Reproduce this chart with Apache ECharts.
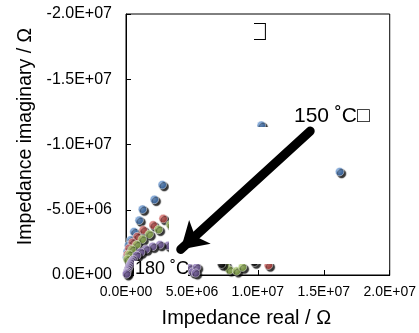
<!DOCTYPE html>
<html>
<head>
<meta charset="utf-8">
<script src="https://cdn.jsdelivr.net/npm/echarts@6/dist/echarts.min.js"></script>
<style>
  body { margin: 0; background: #fff; }
  #box { width: 419px; height: 333px; }
</style>
</head>
<body>
<div id="box"></div>
<script>
// 数据: [Z' , Z''] (Ω)
const xTicks = [0, 5e6, 1e7, 1.5e7, 2e7];
const yTicks = [-2e7, -1.5e7, -1e7, -5e6, 0];

const blue150 = [
  [2.75e6, -6.92e6], [2.15e6, -5.79e6], [1.25e6, -5.04e6], [1.0e6, -4.19e6],
  [0.6e6, -3.32e6], [0.35e6, -2.69e6], [0.19e6, -2.26e6], [0.1e6, -1.81e6],
  [0.05e6, -1.36e6], [10.26e6, -11.47e6], [16.2e6, -7.92e6]
];
const red160 = [
  [2.82e6, -4.32e6], [2.06e6, -3.83e6], [1.31e6, -3.45e6], [0.85e6, -2.94e6],
  [0.49e6, -2.49e6], [0.23e6, -2.04e6], [0.11e6, -1.58e6], [10.8e6, -0.75e6]
];
const green170 = [
  [2.47e6, -3.49e6], [1.76e6, -3.12e6], [1.23e6, -2.74e6], [0.81e6, -2.32e6],
  [0.45e6, -1.96e6], [0.23e6, -1.58e6], [0.1e6, -1.21e6], [3.35e6, -3.85e6],
  [7.55e6, -0.75e6], [7.85e6, -0.38e6], [8.38e6, -0.3e6], [8.83e6, -0.6e6]
];
const purple180 = [
  [3.19e6, -2.26e6], [2.57e6, -2.32e6], [2.02e6, -2.19e6], [1.51e6, -1.98e6],
  [1.11e6, -1.74e6], [0.81e6, -1.49e6], [0.55e6, -1.18e6], [0.46e6, -1.05e6],
  [0.38e6, -0.91e6], [0.3e6, -0.75e6], [0.23e6, -0.6e6], [0.17e6, -0.45e6],
  [0.11e6, -0.3e6], [0.07e6, -0.18e6], [0.04e6, -0.08e6],
  [4.83e6, -0.53e6], [5.06e6, -0.23e6], [5.36e6, -0.6e6], [5.28e6, -0.15e6]
];
const blackPts = [[7.25e6, -0.83e6], [9.74e6, -0.98e6]];
// 箭头 (150 ˚C 标签 -> 曲线)
const arrowFrom = [1.397e7, -1.103e7];
const arrowTo = [4.15e6, -1.96e6];

const FONT = '"Liberation Sans", Arial, "DejaVu Sans", sans-serif';

// 0.0E+00 格式
function sci(v) {
  const s = Number(v).toExponential(1).toUpperCase();
  return s.replace(/E([+-])(\d+)$/, (m, sg, d) => 'E' + sg + (d.length < 2 ? '0' + d : d));
}

function ball(base, light) {
  return {
    type: 'radial', x: 0.35, y: 0.35, r: 0.7,
    colorStops: [{ offset: 0, color: light }, { offset: 1, color: base }]
  };
}

function dots(name, data, base, light) {
  return {
    name: name,
    type: 'scatter',
    data: data,
    symbolSize: 8.5,
    z: 2,
    itemStyle: {
      color: ball(base, light),
      borderColor: '#fff',
      borderWidth: 0.6,
      shadowColor: '#000',
      shadowBlur: 1,
      shadowOffsetX: 2,
      shadowOffsetY: 2
    }
  };
}

const myChart = echarts.init(document.getElementById('box'));

const option = {
  animation: false,
  grid: {
    left: 126, right: 28, top: 14, bottom: 54,
    show: true, borderColor: '#000', borderWidth: 1, backgroundColor: 'transparent'
  },
  xAxis: {
    type: 'value',
    min: xTicks[0], max: xTicks[xTicks.length - 1], interval: xTicks[1] - xTicks[0],
    name: 'Impedance real / Ω',
    nameLocation: 'middle',
    nameGap: 33,
    nameTextStyle: { fontFamily: FONT, fontSize: 20, color: '#000', padding: [0, 23, 0, 0] },
    axisLine: { onZero: false, lineStyle: { color: '#000', width: 1 } },
    axisTick: { inside: true, length: 5, lineStyle: { color: '#000' } },
    axisLabel: { formatter: sci, fontFamily: FONT, fontSize: 14, color: '#000', margin: 10 },
    splitLine: { show: false }
  },
  yAxis: {
    type: 'value',
    inverse: true,
    min: yTicks[0], max: yTicks[yTicks.length - 1], interval: yTicks[1] - yTicks[0],
    name: 'Impedance imaginary / Ω',
    nameLocation: 'middle',
    nameGap: 88,
    nameTextStyle: { fontFamily: FONT, fontSize: 19.5, color: '#000', padding: [0, 0, 0, 16] },
    axisLine: { onZero: false, lineStyle: { color: '#000', width: 1 } },
    axisTick: { inside: true, length: 5, lineStyle: { color: '#000' } },
    axisLabel: { formatter: sci, fontFamily: FONT, fontSize: 16, color: '#000', margin: 14, padding: [6, 0, 0, 0] },
    splitLine: { show: false }
  },
  series: [
    dots('150 ˚C', blue150, '#2f64a8', '#7fa9dd'),
    dots('160 ˚C', red160, '#a83532', '#e27a77'),
    dots('170 ˚C', green170, '#78993a', '#bfdc86'),
    dots('180 ˚C', purple180, '#5e4885', '#a38ccb'),
    dots('black', blackPts, '#000', '#333'),
    {
      type: 'scatter',
      data: [],
      z: 10,
      silent: true,
      markLine: {
        silent: true,
        symbol: ['none', 'arrow'],
        symbolSize: [24, 26],
        label: { show: false },
        lineStyle: { color: '#000', width: 9, type: 'solid', cap: 'round' },
        data: [[{ coord: arrowFrom }, { coord: arrowTo }]]
      }
    }
  ],
  graphic: [
    // 遮挡的白框
    { type: 'rect', z: 5, shape: { x: 169, y: 127, width: 131, height: 137 }, style: { fill: '#fff' } },
    { type: 'rect', z: 5, shape: { x: 134, y: 261, width: 54, height: 16.5 }, style: { fill: '#fff' } },
    {
      type: 'text', z: 20, left: 294, top: 106,
      style: { text: '150 ˚C□', font: '21px ' + FONT, fill: '#000' }
    },
    {
      type: 'text', z: 20, left: 135, top: 260,
      style: { text: '180 ˚C', font: '18px ' + FONT, fill: '#000' }
    },
    {
      type: 'text', z: 20, left: 249, top: 18,
      style: { text: '□', font: '28px ' + FONT, fill: '#000' }
    },
    { type: 'rect', z: 21, shape: { x: 240, y: 16, width: 14, height: 32 }, style: { fill: '#fff' } }
  ]
};

myChart.setOption(option);
</script>
</body>
</html>
